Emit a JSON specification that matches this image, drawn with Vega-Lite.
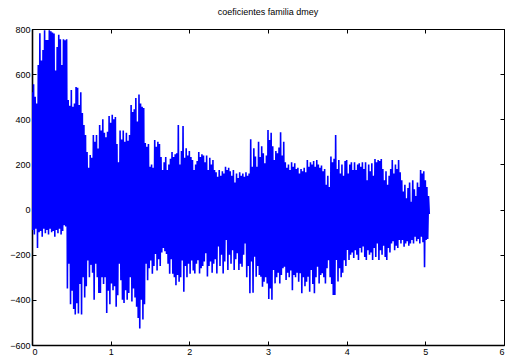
{
"$schema":"https://vega.github.io/schema/vega-lite/v6.json",
"width":472,"height":316,
"autosize":{"type":"none"},
"padding":{"left":32,"top":29,"right":3,"bottom":11},
"background":"white",
"title":{"text":"coeficientes familia dmey","fontSize":9,"fontWeight":"normal","font":"Liberation Sans","offset":8,"color":"black"},
"config":{"view":{"stroke":"black","strokeWidth":1},"axis":{"grid":false,"domainColor":"black","tickColor":"black","labelColor":"black","labelFont":"Liberation Sans","labelFontSize":9,"title":null,"tickSize":-4,"labelPadding":6}},
"data":{"values":[
{"t":0,"v":520},{"t":0.01,"v":-90},{"t":0.02,"v":555},{"t":0.03,"v":-110},{"t":0.04,"v":500},{"t":0.05,"v":-85},{"t":0.06,"v":470},{"t":0.07,"v":-170},{"t":0.08,"v":640},{"t":0.09,"v":-100},
{"t":0.1,"v":781},{"t":0.11,"v":-95},{"t":0.12,"v":660},{"t":0.13,"v":-120},{"t":0.14,"v":707},{"t":0.15,"v":-85},{"t":0.16,"v":795},{"t":0.17,"v":-105},{"t":0.18,"v":751},{"t":0.19,"v":-90},
{"t":0.2,"v":751},{"t":0.21,"v":-110},{"t":0.22,"v":795},{"t":0.23,"v":-85},{"t":0.24,"v":790},{"t":0.25,"v":-100},{"t":0.26,"v":785},{"t":0.27,"v":-95},{"t":0.28,"v":780},{"t":0.29,"v":-120},
{"t":0.3,"v":616},{"t":0.31,"v":-90},{"t":0.32,"v":720},{"t":0.33,"v":-105},{"t":0.34,"v":775},{"t":0.35,"v":-85},{"t":0.36,"v":755},{"t":0.37,"v":-110},{"t":0.38,"v":640},{"t":0.39,"v":-95},
{"t":0.4,"v":755},{"t":0.41,"v":-70},{"t":0.42,"v":750},{"t":0.43,"v":-75},{"t":0.44,"v":755},{"t":0.45,"v":-350},{"t":0.46,"v":485},{"t":0.47,"v":-240},{"t":0.48,"v":460},{"t":0.49,"v":-420},
{"t":0.5,"v":530},{"t":0.51,"v":-360},{"t":0.52,"v":455},{"t":0.53,"v":-440},{"t":0.54,"v":470},{"t":0.55,"v":-465},{"t":0.56,"v":543},{"t":0.57,"v":-415},{"t":0.58,"v":540},{"t":0.59,"v":-460},
{"t":0.6,"v":463},{"t":0.61,"v":-330},{"t":0.62,"v":520},{"t":0.63,"v":-465},{"t":0.64,"v":428},{"t":0.65,"v":-300},{"t":0.66,"v":375},{"t":0.67,"v":-390},{"t":0.68,"v":330},{"t":0.69,"v":-340},
{"t":0.7,"v":255},{"t":0.71,"v":-226},{"t":0.72,"v":185},{"t":0.73,"v":-300},{"t":0.74,"v":242},{"t":0.75,"v":-245},{"t":0.76,"v":230},{"t":0.77,"v":-280},{"t":0.78,"v":330},{"t":0.79,"v":-400},
{"t":0.8,"v":300},{"t":0.81,"v":-240},{"t":0.82,"v":330},{"t":0.83,"v":-300},{"t":0.84,"v":270},{"t":0.85,"v":-370},{"t":0.86,"v":375},{"t":0.87,"v":-370},{"t":0.88,"v":350},{"t":0.89,"v":-300},
{"t":0.9,"v":400},{"t":0.91,"v":-330},{"t":0.92,"v":340},{"t":0.93,"v":-300},{"t":0.94,"v":320},{"t":0.95,"v":-458},{"t":0.96,"v":345},{"t":0.97,"v":-360},{"t":0.98,"v":415},{"t":0.99,"v":-420},
{"t":1.0,"v":385},{"t":1.01,"v":-328},{"t":1.02,"v":420},{"t":1.03,"v":-357},{"t":1.04,"v":400},{"t":1.05,"v":-340},{"t":1.06,"v":410},{"t":1.07,"v":-430},{"t":1.08,"v":290},{"t":1.09,"v":-380},
{"t":1.1,"v":210},{"t":1.11,"v":-240},{"t":1.12,"v":350},{"t":1.13,"v":-313},{"t":1.14,"v":310},{"t":1.15,"v":-400},{"t":1.16,"v":350},{"t":1.17,"v":-414},{"t":1.18,"v":300},{"t":1.19,"v":-357},
{"t":1.2,"v":340},{"t":1.21,"v":-400},{"t":1.22,"v":305},{"t":1.23,"v":-370},{"t":1.24,"v":330},{"t":1.25,"v":-300},{"t":1.26,"v":463},{"t":1.27,"v":-407},{"t":1.28,"v":432},{"t":1.29,"v":-350},
{"t":1.3,"v":445},{"t":1.31,"v":-390},{"t":1.32,"v":494},{"t":1.33,"v":-430},{"t":1.34,"v":390},{"t":1.35,"v":-480},{"t":1.36,"v":510},{"t":1.37,"v":-527},{"t":1.38,"v":470},{"t":1.39,"v":-400},
{"t":1.4,"v":456},{"t":1.41,"v":-487},{"t":1.42,"v":450},{"t":1.43,"v":-420},{"t":1.44,"v":295},{"t":1.45,"v":-240},{"t":1.46,"v":278},{"t":1.47,"v":-313},{"t":1.48,"v":290},{"t":1.49,"v":-260},
{"t":1.5,"v":190},{"t":1.51,"v":-226},{"t":1.52,"v":200},{"t":1.53,"v":-284},{"t":1.54,"v":185},{"t":1.55,"v":-250},{"t":1.56,"v":308},{"t":1.57,"v":-197},{"t":1.58,"v":278},{"t":1.59,"v":-270},
{"t":1.6,"v":300},{"t":1.61,"v":-220},{"t":1.62,"v":290},{"t":1.63,"v":-250},{"t":1.64,"v":233},{"t":1.65,"v":-190},{"t":1.66,"v":175},{"t":1.67,"v":-170},{"t":1.68,"v":210},{"t":1.69,"v":-185},
{"t":1.7,"v":233},{"t":1.71,"v":-197},{"t":1.72,"v":175},{"t":1.73,"v":-240},{"t":1.74,"v":200},{"t":1.75,"v":-284},{"t":1.76,"v":225},{"t":1.77,"v":-220},{"t":1.78,"v":255},{"t":1.79,"v":-284},
{"t":1.8,"v":233},{"t":1.81,"v":-300},{"t":1.82,"v":245},{"t":1.83,"v":-335},{"t":1.84,"v":250},{"t":1.85,"v":-290},{"t":1.86,"v":375},{"t":1.87,"v":-320},{"t":1.88,"v":200},{"t":1.89,"v":-300},
{"t":1.9,"v":260},{"t":1.91,"v":-226},{"t":1.92,"v":370},{"t":1.93,"v":-364},{"t":1.94,"v":230},{"t":1.95,"v":-250},{"t":1.96,"v":272},{"t":1.97,"v":-300},{"t":1.98,"v":240},{"t":1.99,"v":-240},
{"t":2.0,"v":260},{"t":2.01,"v":-284},{"t":2.02,"v":233},{"t":2.03,"v":-226},{"t":2.04,"v":220},{"t":2.05,"v":-270},{"t":2.06,"v":175},{"t":2.07,"v":-283},{"t":2.08,"v":200},{"t":2.09,"v":-240},
{"t":2.1,"v":215},{"t":2.11,"v":-224},{"t":2.12,"v":255},{"t":2.13,"v":-283},{"t":2.14,"v":233},{"t":2.15,"v":-260},{"t":2.16,"v":245},{"t":2.17,"v":-250},{"t":2.18,"v":240},{"t":2.19,"v":-230},
{"t":2.2,"v":210},{"t":2.21,"v":-194},{"t":2.22,"v":240},{"t":2.23,"v":-297},{"t":2.24,"v":175},{"t":2.25,"v":-250},{"t":2.26,"v":230},{"t":2.27,"v":-230},{"t":2.28,"v":200},{"t":2.29,"v":-280},
{"t":2.3,"v":220},{"t":2.31,"v":-240},{"t":2.32,"v":175},{"t":2.33,"v":-220},{"t":2.34,"v":165},{"t":2.35,"v":-283},{"t":2.36,"v":145},{"t":2.37,"v":-164},{"t":2.38,"v":175},{"t":2.39,"v":-250},
{"t":2.4,"v":150},{"t":2.41,"v":-200},{"t":2.42,"v":170},{"t":2.43,"v":-283},{"t":2.44,"v":160},{"t":2.45,"v":-230},{"t":2.46,"v":190},{"t":2.47,"v":-135},{"t":2.48,"v":175},{"t":2.49,"v":-268},
{"t":2.5,"v":185},{"t":2.51,"v":-200},{"t":2.52,"v":170},{"t":2.53,"v":-240},{"t":2.54,"v":150},{"t":2.55,"v":-180},{"t":2.56,"v":175},{"t":2.57,"v":-268},{"t":2.58,"v":120},{"t":2.59,"v":-220},
{"t":2.6,"v":160},{"t":2.61,"v":-194},{"t":2.62,"v":140},{"t":2.63,"v":-268},{"t":2.64,"v":165},{"t":2.65,"v":-240},{"t":2.66,"v":150},{"t":2.67,"v":-253},{"t":2.68,"v":160},{"t":2.69,"v":-200},
{"t":2.7,"v":145},{"t":2.71,"v":-150},{"t":2.72,"v":165},{"t":2.73,"v":-300},{"t":2.74,"v":150},{"t":2.75,"v":-250},{"t":2.76,"v":160},{"t":2.77,"v":-371},{"t":2.78,"v":311},{"t":2.79,"v":-230},
{"t":2.8,"v":190},{"t":2.81,"v":-368},{"t":2.82,"v":272},{"t":2.83,"v":-209},{"t":2.84,"v":235},{"t":2.85,"v":-298},{"t":2.86,"v":190},{"t":2.87,"v":-250},{"t":2.88,"v":300},{"t":2.89,"v":-290},
{"t":2.9,"v":233},{"t":2.91,"v":-298},{"t":2.92,"v":280},{"t":2.93,"v":-342},{"t":2.94,"v":250},{"t":2.95,"v":-320},{"t":2.96,"v":205},{"t":2.97,"v":-300},{"t":2.98,"v":240},{"t":2.99,"v":-327},
{"t":3.0,"v":353},{"t":3.01,"v":-396},{"t":3.02,"v":308},{"t":3.03,"v":-350},{"t":3.04,"v":340},{"t":3.05,"v":-400},{"t":3.06,"v":280},{"t":3.07,"v":-268},{"t":3.08,"v":220},{"t":3.09,"v":-327},
{"t":3.1,"v":260},{"t":3.11,"v":-300},{"t":3.12,"v":250},{"t":3.13,"v":-280},{"t":3.14,"v":275},{"t":3.15,"v":-327},{"t":3.16,"v":343},{"t":3.17,"v":-290},{"t":3.18,"v":240},{"t":3.19,"v":-260},
{"t":3.2,"v":300},{"t":3.21,"v":-253},{"t":3.22,"v":210},{"t":3.23,"v":-312},{"t":3.24,"v":185},{"t":3.25,"v":-280},{"t":3.26,"v":200},{"t":3.27,"v":-300},{"t":3.28,"v":175},{"t":3.29,"v":-270},
{"t":3.3,"v":210},{"t":3.31,"v":-357},{"t":3.32,"v":190},{"t":3.33,"v":-290},{"t":3.34,"v":205},{"t":3.35,"v":-300},{"t":3.36,"v":180},{"t":3.37,"v":-280},{"t":3.38,"v":185},{"t":3.39,"v":-320},
{"t":3.4,"v":160},{"t":3.41,"v":-282},{"t":3.42,"v":180},{"t":3.43,"v":-371},{"t":3.44,"v":170},{"t":3.45,"v":-300},{"t":3.46,"v":185},{"t":3.47,"v":-340},{"t":3.48,"v":165},{"t":3.49,"v":-320},
{"t":3.5,"v":220},{"t":3.51,"v":-298},{"t":3.52,"v":190},{"t":3.53,"v":-364},{"t":3.54,"v":210},{"t":3.55,"v":-268},{"t":3.56,"v":200},{"t":3.57,"v":-330},{"t":3.58,"v":215},{"t":3.59,"v":-371},
{"t":3.6,"v":190},{"t":3.61,"v":-300},{"t":3.62,"v":220},{"t":3.63,"v":-253},{"t":3.64,"v":200},{"t":3.65,"v":-327},{"t":3.66,"v":185},{"t":3.67,"v":-290},{"t":3.68,"v":195},{"t":3.69,"v":-282},
{"t":3.7,"v":170},{"t":3.71,"v":-300},{"t":3.72,"v":180},{"t":3.73,"v":-327},{"t":3.74,"v":110},{"t":3.75,"v":-260},{"t":3.76,"v":150},{"t":3.77,"v":-224},{"t":3.78,"v":100},{"t":3.79,"v":-300},
{"t":3.8,"v":235},{"t":3.81,"v":-330},{"t":3.82,"v":210},{"t":3.83,"v":-378},{"t":3.84,"v":225},{"t":3.85,"v":-379},{"t":3.86,"v":330},{"t":3.87,"v":-223},{"t":3.88,"v":180},{"t":3.89,"v":-319},
{"t":3.9,"v":220},{"t":3.91,"v":-260},{"t":3.92,"v":160},{"t":3.93,"v":-300},{"t":3.94,"v":200},{"t":3.95,"v":-280},{"t":3.96,"v":150},{"t":3.97,"v":-224},{"t":3.98,"v":215},{"t":3.99,"v":-250},
{"t":4.0,"v":220},{"t":4.01,"v":-179},{"t":4.02,"v":160},{"t":4.03,"v":-223},{"t":4.04,"v":200},{"t":4.05,"v":-200},{"t":4.06,"v":210},{"t":4.07,"v":-190},{"t":4.08,"v":175},{"t":4.09,"v":-215},
{"t":4.1,"v":210},{"t":4.11,"v":-180},{"t":4.12,"v":175},{"t":4.13,"v":-200},{"t":4.14,"v":200},{"t":4.15,"v":-223},{"t":4.16,"v":205},{"t":4.17,"v":-170},{"t":4.18,"v":190},{"t":4.19,"v":-190},
{"t":4.2,"v":210},{"t":4.21,"v":-164},{"t":4.22,"v":180},{"t":4.23,"v":-210},{"t":4.24,"v":210},{"t":4.25,"v":-223},{"t":4.26,"v":130},{"t":4.27,"v":-180},{"t":4.28,"v":200},{"t":4.29,"v":-200},
{"t":4.3,"v":170},{"t":4.31,"v":-190},{"t":4.32,"v":205},{"t":4.33,"v":-223},{"t":4.34,"v":150},{"t":4.35,"v":-170},{"t":4.36,"v":224},{"t":4.37,"v":-210},{"t":4.38,"v":210},{"t":4.39,"v":-150},
{"t":4.4,"v":220},{"t":4.41,"v":-223},{"t":4.42,"v":215},{"t":4.43,"v":-180},{"t":4.44,"v":224},{"t":4.45,"v":-200},{"t":4.46,"v":180},{"t":4.47,"v":-160},{"t":4.48,"v":130},{"t":4.49,"v":-210},
{"t":4.5,"v":170},{"t":4.51,"v":-223},{"t":4.52,"v":110},{"t":4.53,"v":-170},{"t":4.54,"v":150},{"t":4.55,"v":-190},{"t":4.56,"v":180},{"t":4.57,"v":-150},{"t":4.58,"v":220},{"t":4.59,"v":-140},
{"t":4.6,"v":160},{"t":4.61,"v":-180},{"t":4.62,"v":200},{"t":4.63,"v":-160},{"t":4.64,"v":180},{"t":4.65,"v":-170},{"t":4.66,"v":220},{"t":4.67,"v":-135},{"t":4.68,"v":165},{"t":4.69,"v":-150},
{"t":4.7,"v":130},{"t":4.71,"v":-135},{"t":4.72,"v":80},{"t":4.73,"v":-165},{"t":4.74,"v":110},{"t":4.75,"v":-150},{"t":4.76,"v":50},{"t":4.77,"v":-140},{"t":4.78,"v":95},{"t":4.79,"v":-160},
{"t":4.8,"v":120},{"t":4.81,"v":-150},{"t":4.82,"v":35},{"t":4.83,"v":-135},{"t":4.84,"v":130},{"t":4.85,"v":-150},{"t":4.86,"v":90},{"t":4.87,"v":-120},{"t":4.88,"v":60},{"t":4.89,"v":-140},
{"t":4.9,"v":120},{"t":4.91,"v":-130},{"t":4.92,"v":100},{"t":4.93,"v":-150},{"t":4.94,"v":175},{"t":4.95,"v":-120},{"t":4.96,"v":160},{"t":4.97,"v":-145},{"t":4.98,"v":170},{"t":4.99,"v":-256},
{"t":5.0,"v":130},{"t":5.01,"v":-135},{"t":5.02,"v":100},{"t":5.03,"v":-130},{"t":5.04,"v":60},{"t":5.05,"v":-20}
]},
"layer":[
{"mark":{"type":"line","color":"#0000FF","strokeWidth":1.6,"clip":true},
 "encoding":{
  "x":{"field":"t","type":"quantitative","scale":{"domain":[0,6],"nice":false},"axis":{"orient":"bottom","values":[0,1,2,3,4,5,6],"labelPadding":6,"domainWidth":1.6}},
  "y":{"field":"v","type":"quantitative","scale":{"domain":[-600,800],"nice":false},"axis":{"orient":"left","values":[-600,-400,-200,0,200,400,600,800],"labelPadding":6,"domainWidth":1.6}}
 }},
{"mark":{"type":"line","opacity":0},
 "encoding":{
  "x":{"field":"t","type":"quantitative","axis":{"orient":"top","values":[0,1,2,3,4,5,6],"labels":false}},
  "y":{"field":"v","type":"quantitative","axis":{"orient":"right","values":[-600,-400,-200,0,200,400,600,800],"labels":false}}
 }}
],
"resolve":{"axis":{"x":"independent","y":"independent"}}
}
